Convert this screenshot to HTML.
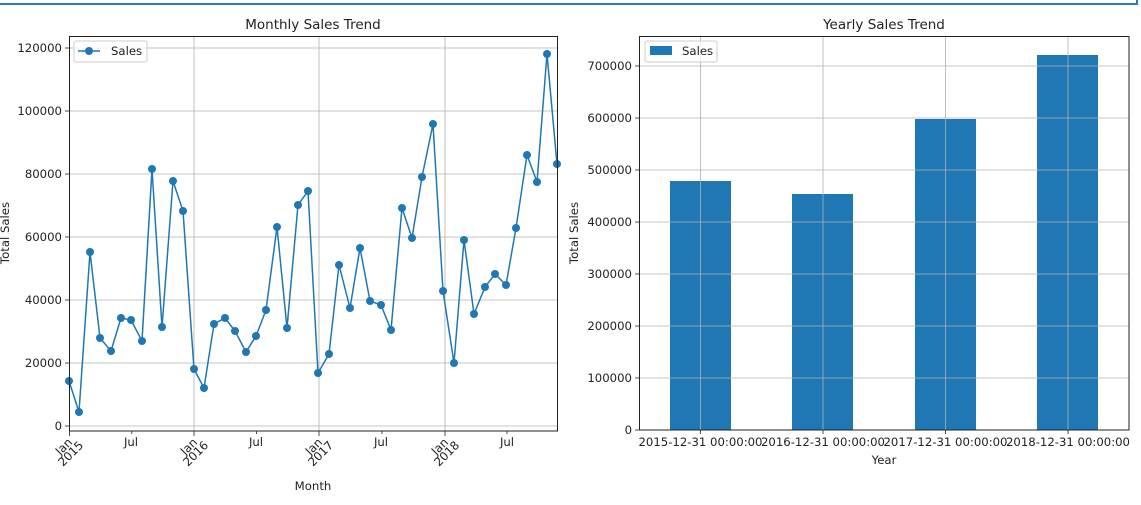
<!DOCTYPE html>
<html><head><meta charset="utf-8"><style>
html,body{margin:0;padding:0;background:#fff;}
svg{display:block;font-family:"DejaVu Sans","Liberation Sans",sans-serif;}
</style></head><body>
<svg width="1141" height="505" viewBox="0 0 1141 505" xmlns="http://www.w3.org/2000/svg">
<rect x="0" y="0" width="1141" height="505" fill="#fff"/>
<line x1="0" y1="4" x2="1137" y2="4" stroke="#2f76c6" stroke-width="2"/>
<line x1="1137" y1="0" x2="1137" y2="5" stroke="#2f76c6" stroke-width="2"/>

<!-- LEFT CHART -->
<text x="313" y="29" font-size="13.5" text-anchor="middle" fill="#222">Monthly Sales Trend</text>
<g stroke="#b0b0b0" stroke-width="0.8">
<line x1="69.5" y1="426" x2="557" y2="426"/>
<line x1="69.5" y1="363" x2="557" y2="363"/>
<line x1="69.5" y1="300" x2="557" y2="300"/>
<line x1="69.5" y1="237" x2="557" y2="237"/>
<line x1="69.5" y1="174" x2="557" y2="174"/>
<line x1="69.5" y1="111" x2="557" y2="111"/>
<line x1="69.5" y1="48" x2="557" y2="48"/>
<line x1="194" y1="36" x2="194" y2="431"/>
<line x1="319" y1="36" x2="319" y2="431"/>
<line x1="445" y1="36" x2="445" y2="431"/>
</g>
<g font-size="11.7" fill="#222" text-anchor="end">
<text x="62" y="430">0</text>
<text x="62" y="367">20000</text>
<text x="62" y="304">40000</text>
<text x="62" y="241">60000</text>
<text x="62" y="178">80000</text>
<text x="62" y="115">100000</text>
<text x="62" y="52">120000</text>
</g>
<g stroke="#222" stroke-width="0.8">
<line x1="65" y1="426" x2="69" y2="426"/><line x1="65" y1="363" x2="69" y2="363"/><line x1="65" y1="300" x2="69" y2="300"/><line x1="65" y1="237" x2="69" y2="237"/><line x1="65" y1="174" x2="69" y2="174"/><line x1="65" y1="111" x2="69" y2="111"/><line x1="65" y1="48" x2="69" y2="48"/>
<line x1="69.5" y1="431" x2="69.5" y2="436"/><line x1="194" y1="431" x2="194" y2="436"/><line x1="319" y1="431" x2="319" y2="436"/><line x1="445" y1="431" x2="445" y2="436"/>
<line x1="131.8" y1="431" x2="131.8" y2="434"/><line x1="256.5" y1="431" x2="256.5" y2="434"/><line x1="382" y1="431" x2="382" y2="434"/><line x1="507" y1="431" x2="507" y2="434"/>
</g>
<text transform="translate(9,233) rotate(-90)" font-size="11.7" text-anchor="middle" fill="#222">Total Sales</text>
<g font-size="11.7" fill="#222">
<text x="131" y="446" text-anchor="middle">Jul</text>
<text x="256" y="446" text-anchor="middle">Jul</text>
<text x="381" y="446" text-anchor="middle">Jul</text>
<text x="507" y="446" text-anchor="middle">Jul</text>
<text transform="translate(73,443) rotate(-45)" text-anchor="end">Jan</text>
<text transform="translate(84,446) rotate(-45)" text-anchor="end">2015</text>
<text transform="translate(198,443) rotate(-45)" text-anchor="end">Jan</text>
<text transform="translate(209,446) rotate(-45)" text-anchor="end">2016</text>
<text transform="translate(323,443) rotate(-45)" text-anchor="end">Jan</text>
<text transform="translate(334,446) rotate(-45)" text-anchor="end">2017</text>
<text transform="translate(449,443) rotate(-45)" text-anchor="end">Jan</text>
<text transform="translate(460,446) rotate(-45)" text-anchor="end">2018</text>
<text x="313" y="490" text-anchor="middle">Month</text>
</g>
<polyline fill="none" stroke="#1f77b4" stroke-width="1.5" points="69,381 79,412 90,252 100,338 111,351 121,318 131,320 142,341 152,169 162,327 173,181 183,211 194,369 204,388 214,324 225,318 235,331 246,352 256,336 266,310 277,227 287,328 298,205 308,191 318,373 329,354 339,265 350,308 360,248 370,301 381,305 391,330 402,208 412,238 422,177 433,124 443,291 454,363 464,240 474,314 485,287 495,274 506,285 516,228 527,155 537,182 547,54 557,164"/>
<g fill="#1f77b4">
<circle cx="69" cy="381" r="4"/><circle cx="79" cy="412" r="4"/><circle cx="90" cy="252" r="4"/><circle cx="100" cy="338" r="4"/><circle cx="111" cy="351" r="4"/><circle cx="121" cy="318" r="4"/><circle cx="131" cy="320" r="4"/><circle cx="142" cy="341" r="4"/><circle cx="152" cy="169" r="4"/><circle cx="162" cy="327" r="4"/><circle cx="173" cy="181" r="4"/><circle cx="183" cy="211" r="4"/><circle cx="194" cy="369" r="4"/><circle cx="204" cy="388" r="4"/><circle cx="214" cy="324" r="4"/><circle cx="225" cy="318" r="4"/><circle cx="235" cy="331" r="4"/><circle cx="246" cy="352" r="4"/><circle cx="256" cy="336" r="4"/><circle cx="266" cy="310" r="4"/><circle cx="277" cy="227" r="4"/><circle cx="287" cy="328" r="4"/><circle cx="298" cy="205" r="4"/><circle cx="308" cy="191" r="4"/><circle cx="318" cy="373" r="4"/><circle cx="329" cy="354" r="4"/><circle cx="339" cy="265" r="4"/><circle cx="350" cy="308" r="4"/><circle cx="360" cy="248" r="4"/><circle cx="370" cy="301" r="4"/><circle cx="381" cy="305" r="4"/><circle cx="391" cy="330" r="4"/><circle cx="402" cy="208" r="4"/><circle cx="412" cy="238" r="4"/><circle cx="422" cy="177" r="4"/><circle cx="433" cy="124" r="4"/><circle cx="443" cy="291" r="4"/><circle cx="454" cy="363" r="4"/><circle cx="464" cy="240" r="4"/><circle cx="474" cy="314" r="4"/><circle cx="485" cy="287" r="4"/><circle cx="495" cy="274" r="4"/><circle cx="506" cy="285" r="4"/><circle cx="516" cy="228" r="4"/><circle cx="527" cy="155" r="4"/><circle cx="537" cy="182" r="4"/><circle cx="547" cy="54" r="4"/><circle cx="557" cy="164" r="4"/>
</g>
<rect x="69.5" y="36.5" width="488" height="394.5" fill="none" stroke="#222" stroke-width="1"/>
<rect x="74" y="41" width="73" height="21" rx="2" fill="#fff" fill-opacity="0.8" stroke="#ccc"/>
<line x1="78" y1="51" x2="100" y2="51" stroke="#1f77b4" stroke-width="1.5"/>
<circle cx="89" cy="51" r="4" fill="#1f77b4"/>
<text x="111" y="55" font-size="11.7" fill="#222">Sales</text>

<!-- RIGHT CHART -->
<text x="884" y="29" font-size="13.5" text-anchor="middle" fill="#222">Yearly Sales Trend</text>
<g fill="#1f77b4">
<rect x="670" y="181" width="61" height="249"/>
<rect x="792" y="194" width="61" height="236"/>
<rect x="915" y="119" width="61" height="311"/>
<rect x="1037" y="55" width="61" height="375"/>
</g>
<g stroke="#b0b0b0" stroke-width="0.8">
<line x1="639" y1="430" x2="1129" y2="430"/>
<line x1="639" y1="378" x2="1129" y2="378"/>
<line x1="639" y1="326" x2="1129" y2="326"/>
<line x1="639" y1="274" x2="1129" y2="274"/>
<line x1="639" y1="222" x2="1129" y2="222"/>
<line x1="639" y1="170" x2="1129" y2="170"/>
<line x1="639" y1="118" x2="1129" y2="118"/>
<line x1="639" y1="66" x2="1129" y2="66"/>
<line x1="700.5" y1="36" x2="700.5" y2="430"/>
<line x1="823" y1="36" x2="823" y2="430"/>
<line x1="945.5" y1="36" x2="945.5" y2="430"/>
<line x1="1068" y1="36" x2="1068" y2="430"/>
</g>
<g font-size="11.7" fill="#222" text-anchor="end">
<text x="632" y="434">0</text>
<text x="632" y="382">100000</text>
<text x="632" y="330">200000</text>
<text x="632" y="278">300000</text>
<text x="632" y="226">400000</text>
<text x="632" y="174">500000</text>
<text x="632" y="122">600000</text>
<text x="632" y="70">700000</text>
</g>
<g stroke="#222" stroke-width="0.8">
<line x1="635" y1="430" x2="639" y2="430"/><line x1="635" y1="378" x2="639" y2="378"/><line x1="635" y1="326" x2="639" y2="326"/><line x1="635" y1="274" x2="639" y2="274"/><line x1="635" y1="222" x2="639" y2="222"/><line x1="635" y1="170" x2="639" y2="170"/><line x1="635" y1="118" x2="639" y2="118"/><line x1="635" y1="66" x2="639" y2="66"/>
<line x1="700.5" y1="430" x2="700.5" y2="434"/><line x1="823" y1="430" x2="823" y2="434"/><line x1="945.5" y1="430" x2="945.5" y2="434"/><line x1="1068" y1="430" x2="1068" y2="434"/>
</g>
<text transform="translate(578,233) rotate(-90)" font-size="11.7" text-anchor="middle" fill="#222">Total Sales</text>
<g font-size="11.7" fill="#222" text-anchor="middle">
<text x="700.5" y="446" textLength="124" lengthAdjust="spacingAndGlyphs">2015-12-31 00:00:00</text>
<text x="823" y="446" textLength="124" lengthAdjust="spacingAndGlyphs">2016-12-31 00:00:00</text>
<text x="945.5" y="446" textLength="124" lengthAdjust="spacingAndGlyphs">2017-12-31 00:00:00</text>
<text x="1068" y="446" textLength="124" lengthAdjust="spacingAndGlyphs">2018-12-31 00:00:00</text>
<text x="884" y="464">Year</text>
</g>
<rect x="639.5" y="36.5" width="489.5" height="393.5" fill="none" stroke="#222" stroke-width="1"/>
<rect x="645" y="41" width="72" height="21" rx="2" fill="#fff" fill-opacity="0.8" stroke="#ccc"/>
<rect x="650" y="46" width="22" height="9" fill="#1f77b4"/>
<text x="682" y="55" font-size="11.7" fill="#222">Sales</text>
</svg>
</body></html>
